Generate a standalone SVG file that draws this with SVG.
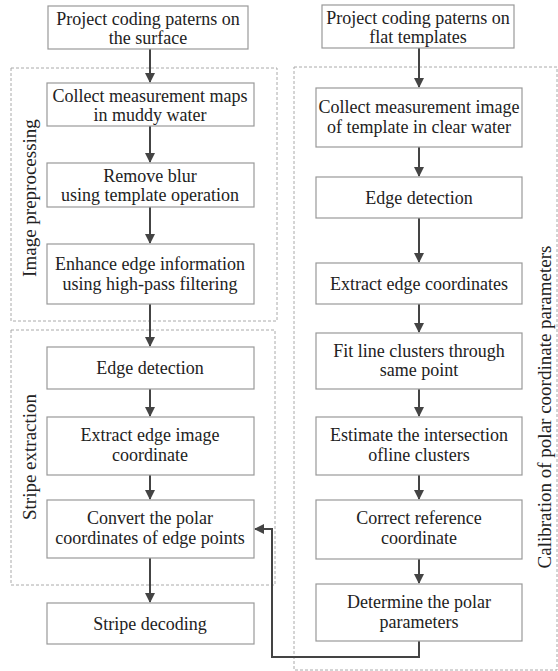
<svg xmlns="http://www.w3.org/2000/svg" width="558" height="671" viewBox="0 0 558 671">
<defs>
<marker id="ah" markerWidth="10" markerHeight="10" refX="9" refY="5" orient="auto" markerUnits="userSpaceOnUse">
<path d="M0,0 L10,5 L0,10 Z" fill="#444"/>
</marker>
<style>
.box{fill:#fff;stroke:#999;stroke-width:1.2}
.grp{fill:none;stroke:#aaa;stroke-width:1;stroke-dasharray:3,2}
.t{font-size:18px;fill:#222;text-anchor:middle}
.lbl{font-size:19px;fill:#222;text-anchor:middle}
.c{fill:none;stroke:#444;stroke-width:2}
</style>
</defs>
<rect width="558" height="671" fill="#fff"/>
<g id="groups">
<rect class="grp" x="11" y="68" width="266" height="253"/>
<rect class="grp" x="11" y="330" width="264" height="255"/>
<rect class="grp" x="294" y="67" width="263" height="603"/>
<text class="lbl" font-family="Liberation Serif" transform="translate(36,198) rotate(-90)">Image preprocessing</text>
<text class="lbl" font-family="Liberation Serif" transform="translate(36,457) rotate(-90)">Stripe extraction</text>
<text class="lbl" font-family="Liberation Serif" transform="translate(551,407) rotate(-90)">Calibration of polar coordinate parameters</text>
</g>
<g id="connectors">
<line class="c" x1="150" y1="49" x2="150" y2="82" marker-end="url(#ah)"/>
<line class="c" x1="150" y1="126" x2="150" y2="162" marker-end="url(#ah)"/>
<line class="c" x1="150" y1="207" x2="150" y2="243" marker-end="url(#ah)"/>
<line class="c" x1="150" y1="304" x2="150" y2="346" marker-end="url(#ah)"/>
<line class="c" x1="150" y1="389" x2="150" y2="416" marker-end="url(#ah)"/>
<line class="c" x1="150" y1="475" x2="150" y2="499" marker-end="url(#ah)"/>
<line class="c" x1="150" y1="558" x2="150" y2="602" marker-end="url(#ah)"/>
<line class="c" x1="419" y1="48" x2="419" y2="87" marker-end="url(#ah)"/>
<line class="c" x1="419" y1="147" x2="419" y2="176" marker-end="url(#ah)"/>
<line class="c" x1="419" y1="218" x2="419" y2="262" marker-end="url(#ah)"/>
<line class="c" x1="419" y1="304" x2="419" y2="332" marker-end="url(#ah)"/>
<line class="c" x1="419" y1="389" x2="419" y2="416" marker-end="url(#ah)"/>
<line class="c" x1="419" y1="475" x2="419" y2="499" marker-end="url(#ah)"/>
<line class="c" x1="419" y1="559" x2="419" y2="583" marker-end="url(#ah)"/>
<polyline class="c" points="419,641 419,657 272,657 272,529 255,529" marker-end="url(#ah)"/>
</g>
<g id="n1"><rect class="box" x="48" y="6" width="200" height="43"/><text class="t" font-family="Liberation Serif" x="148" y="25">Project coding paterns on</text><text class="t" font-family="Liberation Serif" x="148" y="44">the surface</text></g>
<g id="n2"><rect class="box" x="47" y="83" width="207" height="43"/><text class="t" font-family="Liberation Serif" x="150" y="102">Collect measurement maps</text><text class="t" font-family="Liberation Serif" x="150" y="121">in muddy water</text></g>
<g id="n3"><rect class="box" x="47" y="163" width="207" height="44"/><text class="t" font-family="Liberation Serif" x="150" y="182">Remove blur</text><text class="t" font-family="Liberation Serif" x="150" y="201">using template operation</text></g>
<g id="n4"><rect class="box" x="47" y="244" width="207" height="60"/><text class="t" font-family="Liberation Serif" x="150" y="270">Enhance edge information</text><text class="t" font-family="Liberation Serif" x="150" y="290">using high-pass filtering</text></g>
<g id="n5"><rect class="box" x="47" y="347" width="207" height="42"/><text class="t" font-family="Liberation Serif" x="150" y="374">Edge detection</text></g>
<g id="n6"><rect class="box" x="47" y="417" width="207" height="58"/><text class="t" font-family="Liberation Serif" x="150" y="441">Extract edge image</text><text class="t" font-family="Liberation Serif" x="150" y="461">coordinate</text></g>
<g id="n7"><rect class="box" x="47" y="500" width="207" height="58"/><text class="t" font-family="Liberation Serif" x="150" y="524">Convert the polar</text><text class="t" font-family="Liberation Serif" x="150" y="544">coordinates of edge points</text></g>
<g id="n8"><rect class="box" x="47" y="603" width="207" height="41"/><text class="t" font-family="Liberation Serif" x="150" y="630">Stripe decoding</text></g>
<g id="r1"><rect class="box" x="322" y="5" width="192" height="43"/><text class="t" font-family="Liberation Serif" x="418" y="24">Project coding paterns on</text><text class="t" font-family="Liberation Serif" x="418" y="43">flat templates</text></g>
<g id="r2"><rect class="box" x="316" y="88" width="206" height="59"/><text class="t" font-family="Liberation Serif" x="419" y="113">Collect measurement image</text><text class="t" font-family="Liberation Serif" x="419" y="133">of template in clear water</text></g>
<g id="r3"><rect class="box" x="316" y="177" width="206" height="41"/><text class="t" font-family="Liberation Serif" x="419" y="204">Edge detection</text></g>
<g id="r4"><rect class="box" x="316" y="263" width="206" height="41"/><text class="t" font-family="Liberation Serif" x="419" y="290">Extract edge coordinates</text></g>
<g id="r5"><rect class="box" x="316" y="333" width="206" height="56"/><text class="t" font-family="Liberation Serif" x="419" y="357">Fit line clusters through</text><text class="t" font-family="Liberation Serif" x="419" y="376">same point</text></g>
<g id="r6"><rect class="box" x="316" y="417" width="206" height="58"/><text class="t" font-family="Liberation Serif" x="419" y="441">Estimate the intersection</text><text class="t" font-family="Liberation Serif" x="419" y="461">ofline clusters</text></g>
<g id="r7"><rect class="box" x="316" y="500" width="206" height="59"/><text class="t" font-family="Liberation Serif" x="419" y="524">Correct reference</text><text class="t" font-family="Liberation Serif" x="419" y="544">coordinate</text></g>
<g id="r8"><rect class="box" x="316" y="584" width="206" height="57"/><text class="t" font-family="Liberation Serif" x="419" y="608">Determine the polar</text><text class="t" font-family="Liberation Serif" x="419" y="628">parameters</text></g>
</svg>
